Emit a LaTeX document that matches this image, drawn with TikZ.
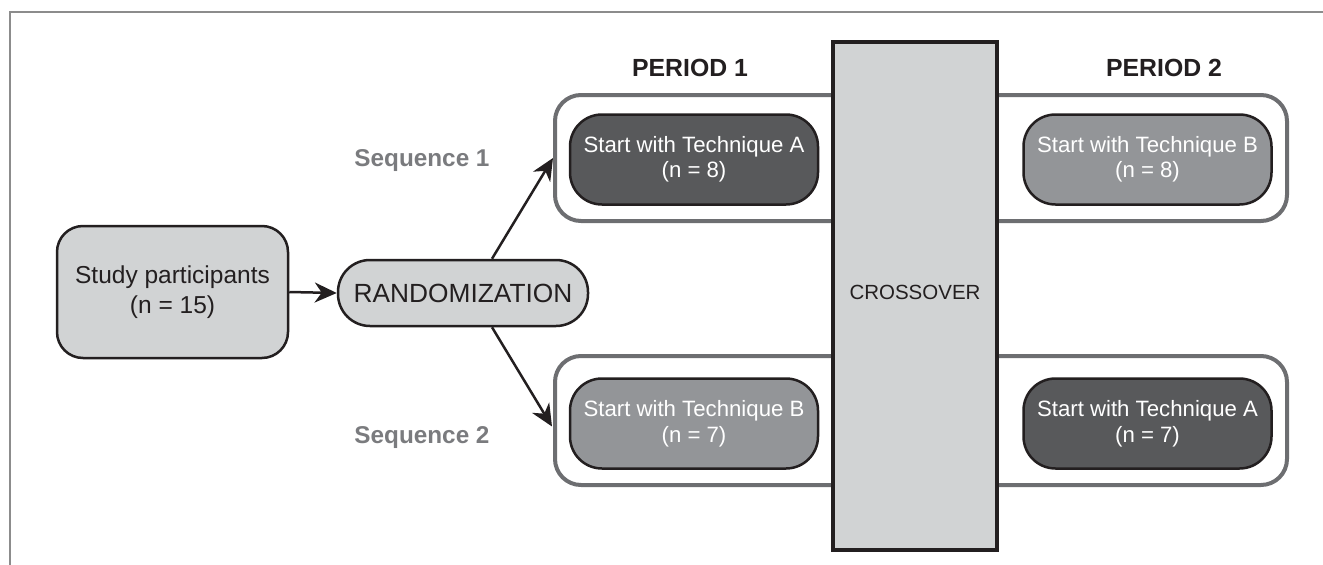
\documentclass[tikz,border=0pt]{standalone}
\usepackage{fontspec}
\setmainfont{Liberation Sans}
\usetikzlibrary{arrows.meta,calc}
\definecolor{lightg}{HTML}{D1D3D4}
\definecolor{midg}{HTML}{939598}
\definecolor{darkg}{HTML}{58595B}
\definecolor{outerg}{HTML}{6D6E71}
\definecolor{labelg}{HTML}{7A7B7E}
\definecolor{inkk}{HTML}{231F20}
\definecolor{frameg}{HTML}{8C8C8C}
\begin{document}
\begin{tikzpicture}[x=1pt,y=-1pt,
  basebox/.style={draw=inkk, line width=2.5pt, inner sep=0pt, align=center},
  studybox/.style={basebox, fill=lightg, rounded corners=26pt, minimum width=231pt, minimum height=132pt, font=\fontsize{24.5}{30}\selectfont, text=inkk},
  randbox/.style={basebox, fill=lightg, rounded corners=32pt, minimum width=250pt, minimum height=66pt, font=\fontsize{26.3}{30}\selectfont, text=inkk},
  techbox/.style={basebox, rounded corners=32pt, minimum width=248pt, minimum height=90pt, font=\fontsize{22.2}{25.5}\selectfont, text=white},
  techA/.style={techbox, fill=darkg},
  techB/.style={techbox, fill=midg},
  seqbox/.style={draw=outerg, line width=4pt, fill=white, rounded corners=26pt, minimum width=732pt, inner sep=0pt},
  crossbox/.style={draw=inkk, line width=4pt, fill=lightg, minimum width=164pt, minimum height=508pt, inner sep=0pt},
  crosslbl/.style={font=\fontsize{20.5}{24}\selectfont, text=inkk, inner sep=0pt},
  periodlbl/.style={font=\bfseries\fontsize{24.8}{28}\selectfont, text=inkk, anchor=base, inner sep=0pt},
  seqlbl/.style={font=\bfseries\fontsize{24.3}{28}\selectfont, text=labelg, anchor=base, inner sep=0pt},
  conn/.style={draw=inkk, line width=2.5pt, -{Stealth[length=22pt,width=20pt,inset=7pt]}}
]
\useasboundingbox (0,0) rectangle (1323,565);
% frame
\draw[frameg, line width=2pt] (10,565) -- (10,12) -- (1323,12);

% sequence outer boxes
\node[seqbox, minimum height=126pt] (seq1) at (921,158) {};
\node[seqbox, minimum height=129pt] (seq2) at (921,420.5) {};

% crossover
\node[crossbox] (cross) at (915,296) {};
\node[crosslbl] (crosst) at (915,292) {CROSSOVER};

% inner boxes
\node[techA] (a1) at (694,159.5) {Start with Technique A\\(n = 8)};
\node[techB] (b1) at (1147.5,159.5) {Start with Technique B\\(n = 8)};
\node[techB] (b2) at (694,423.5) {Start with Technique B\\(n = 7)};
\node[techA] (a2) at (1147.5,423.5) {Start with Technique A\\(n = 7)};

% left part
\node[studybox] (study) at (172.5,292) {Study participants\\(n = 15)};
\node[randbox] (rand) at (463,293) {RANDOMIZATION};

% labels
\node[periodlbl] (p1) at (690,76) {PERIOD 1};
\node[periodlbl] (p2) at (1164,76) {PERIOD 2};
\node[seqlbl] (s1) at (422,166) {Sequence 1};
\node[seqlbl] (s2) at (422,443) {Sequence 2};

% connectors
\coordinate (rn) at ($(rand.north)+(29,0)$);
\coordinate (rs) at ($(rand.south)+(29,0)$);
\coordinate (t2) at ($(seq2.west)+(-1,6)$);
\draw[conn] (study.east) -- (rand.west);
\draw[conn] (rn) -- (seq1.west);
\draw[conn] (rs) -- (t2);
\end{tikzpicture}
\end{document}
